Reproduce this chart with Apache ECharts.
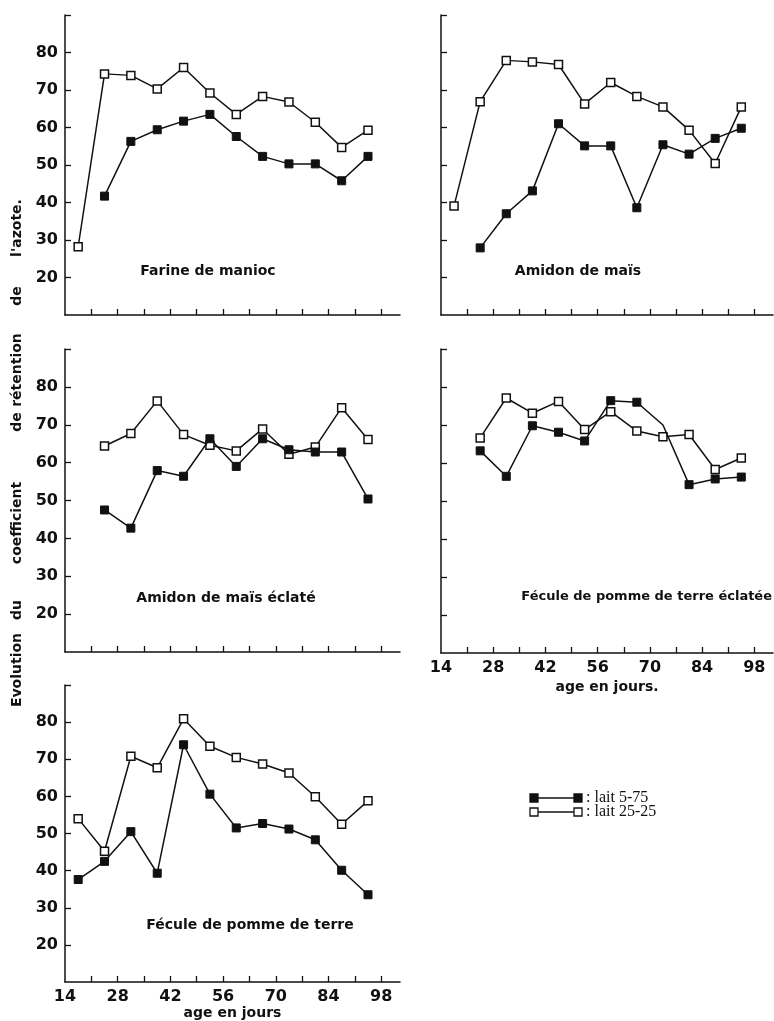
<!DOCTYPE html>
<html>
<head>
<meta charset="utf-8">
<script src="https://cdn.jsdelivr.net/npm/echarts@6/dist/echarts.min.js"></script>
<style>
  html, body { margin: 0; padding: 0; background: #fff; }
  #chart { width: 774px; height: 1021px; }
</style>
</head>
<body>
<div id="chart"></div>
<script>
// age (jours) of each weekly measurement
const days = [17.5, 24.5, 31.5, 38.5, 45.5, 52.5, 59.5, 66.5, 73.5, 80.5, 87.5, 94.5]

// lait 5-75 (filled squares) / lait 25-25 (open squares)
const manioc5 = [null, 41.7, 56.3, 59.4, 61.7, 63.5, 57.6, 52.3, 50.3, 50.3, 45.8, 52.3]
const manioc25 = [28.2, 74.3, 73.9, 70.3, 76.0, 69.2, 63.5, 68.3, 66.8, 61.4, 54.7, 59.3]
const mais5 = [null, 27.9, 37.0, 43.1, 61.0, 55.1, 55.1, 38.6, 55.4, 52.9, 57.1, 59.8]
const mais25 = [39.1, 66.9, 77.9, 77.5, 76.8, 66.3, 72.0, 68.3, 65.5, 59.3, 50.4, 65.5]
const maisEclate5 = [null, 47.5, 42.7, 57.9, 56.4, 66.3, 59.0, 66.3, 63.4, 62.8, 62.8, 50.4]
const maisEclate25 = [null, 64.4, 67.7, 76.3, 67.4, 64.6, 63.1, 68.9, 62.2, 64.1, 74.5, 66.1]
const pommeEclatee5 = [null, 63.2, 56.5, 69.8, 68.1, 65.8, 76.4, 76.0, 70.0, 54.3, 55.8, 56.3]
const pommeEclatee25 = [null, 66.6, 77.1, 73.1, 76.2, 68.8, 73.5, 68.4, 66.9, 67.5, 58.3, 61.3]
const pomme5 = [37.6, 42.5, 50.5, 39.3, 73.9, 60.6, 51.5, 52.7, 51.2, 48.3, 40.1, 33.5]
const pomme25 = [54.0, 45.2, 70.8, 67.7, 80.9, 73.5, 70.5, 68.7, 66.3, 59.9, 52.5, 58.8]

const panelNames = ['Farine de manioc', 'Amidon de maïs', 'Amidon de maïs éclaté',
  'Fécule de pomme de terre éclatée', 'Fécule de pomme de terre']
const seriesNames = ['lait 5-75', 'lait 25-25']

const yTicks = [20, 30, 40, 50, 60, 70, 80, 90]
const yLabels = [20, 30, 40, 50, 60, 70, 80]
const xTicks = [21, 28, 35, 42, 49, 56, 63, 70, 77, 84, 91, 98]
const xLabels = [14, 28, 42, 56, 70, 84, 98]

const panels = [
  { filled: manioc5, open: manioc25 },
  { filled: mais5, open: mais25 },
  { filled: maisEclate5, open: maisEclate25 },
  { filled: pommeEclatee5, open: pommeEclatee25, noMark: [8] },
  { filled: pomme5, open: pomme25 }
]

const INK = '#111'
const FONT = 'DejaVu Sans'

const grids = [
  { left: 65, top: 15, width: 335, height: 300 },
  { left: 441, top: 15, width: 332, height: 300 },
  { left: 65, top: 349, width: 335, height: 303 },
  { left: 441, top: 349, width: 332, height: 304 },
  { left: 65, top: 685, width: 335, height: 300 }
]
const showYLabels = [true, false, true, false, true]
const xName = ['', '', '', 'age en jours.', 'age en jours']

function pairs(vals, noMark) {
  const out = []
  vals.forEach((v, k) => {
    if (v == null) return
    if (noMark && noMark.indexOf(k) >= 0) {
      out.push({ value: [days[k], v], symbol: 'none' })
    } else {
      out.push([days[k], v])
    }
  })
  return out
}

const xAxis = grids.map((g, i) => ({
  type: 'value',
  gridIndex: i,
  min: 14,
  max: 103,
  splitLine: { show: false },
  axisLine: { lineStyle: { color: INK, width: 1.5 } },
  axisTick: { inside: true, length: 6, customValues: xTicks, lineStyle: { color: INK, width: 1.3 } },
  axisLabel: {
    show: !!xName[i],
    customValues: xLabels,
    margin: 7,
    color: INK,
    fontFamily: FONT,
    fontWeight: 'bold',
    fontSize: 16
  },
  name: xName[i],
  nameLocation: 'middle',
  nameGap: i === 4 ? 24 : 27,
  nameTextStyle: { color: INK, fontFamily: FONT, fontWeight: 'bold', fontSize: 14 }
}))

const yAxis = grids.map((g, i) => ({
  type: 'value',
  gridIndex: i,
  min: 10,
  max: 90,
  splitLine: { show: false },
  axisLine: { lineStyle: { color: INK, width: 1.5 } },
  axisTick: { inside: true, length: 6, customValues: yTicks, lineStyle: { color: INK, width: 1.3 } },
  axisLabel: {
    show: showYLabels[i],
    customValues: yLabels,
    margin: 7,
    color: INK,
    fontFamily: FONT,
    fontWeight: 'bold',
    fontSize: 16
  }
}))

const series = []
panels.forEach((p, i) => {
  series.push({
    name: seriesNames[1],
    type: 'line',
    xAxisIndex: i,
    yAxisIndex: i,
    data: pairs(p.open),
    symbol: 'rect',
    symbolSize: 8,
    lineStyle: { color: INK, width: 1.5 },
    itemStyle: { color: '#fff', borderColor: INK, borderWidth: 1.5 },
    z: 2
  })
  series.push({
    name: seriesNames[0],
    type: 'line',
    xAxisIndex: i,
    yAxisIndex: i,
    data: pairs(p.filled, p.noMark),
    symbol: 'rect',
    symbolSize: 8,
    lineStyle: { color: INK, width: 1.5 },
    itemStyle: { color: INK, borderColor: INK, borderWidth: 1 },
    z: 3
  })
})

// panel captions
const captionPos = [[208, 271, 'center'], [578, 271, 'center'], [226, 598, 'center'],
  [772, 597, 'right'], [250, 925, 'center']]
const graphic = panelNames.map((t, i) => ({
  type: 'text',
  x: captionPos[i][0],
  y: captionPos[i][1],
  style: {
    text: t,
    fill: INK,
    font: (i === 3 ? 'bold 13px' : 'bold 14px') + ' "DejaVu Sans"',
    align: captionPos[i][2],
    verticalAlign: 'middle'
  }
}))

// rotated y title, one word at a time
const titleWords = [
  ['Evolution', 670], ['du', 610], ['coefficient', 523], ['de', 422],
  ['rétention', 370], ['de', 296], ["l'azote.", 228]
]
titleWords.forEach(w => {
  graphic.push({
    type: 'text',
    x: 17,
    y: w[1],
    rotation: Math.PI / 2,
    style: {
      text: w[0],
      fill: INK,
      font: 'bold 14px "DejaVu Sans"',
      align: 'center',
      verticalAlign: 'middle'
    }
  })
})

// legend
const legendRows = [798, 812]
legendRows.forEach((y, k) => {
  const fill = k === 0 ? INK : '#fff'
  graphic.push({ type: 'line', shape: { x1: 534, y1: y, x2: 578, y2: y }, style: { stroke: INK, lineWidth: 1.3 } })
  graphic.push({ type: 'rect', shape: { x: 530, y: y - 4, width: 8, height: 8 }, style: { fill, stroke: INK, lineWidth: 1.3 } })
  graphic.push({ type: 'rect', shape: { x: 574, y: y - 4, width: 8, height: 8 }, style: { fill, stroke: INK, lineWidth: 1.3 } })
  graphic.push({
    type: 'text',
    x: 586,
    y,
    style: {
      text: ': ' + seriesNames[k],
      fill: INK,
      font: '16px "Liberation Serif"',
      verticalAlign: 'middle'
    }
  })
})

const chart = echarts.init(document.getElementById('chart'))
chart.setOption({
  backgroundColor: '#fff',
  animation: false,
  grid: grids,
  xAxis,
  yAxis,
  series,
  graphic
})
</script>
</body>
</html>
